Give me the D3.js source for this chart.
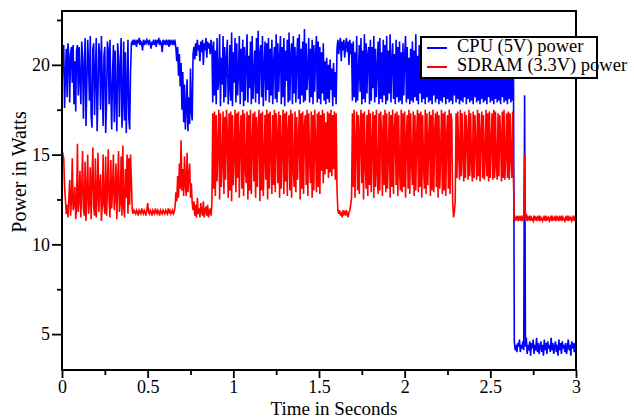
<!DOCTYPE html>
<html><head><meta charset="utf-8">
<script src="https://cdn.jsdelivr.net/npm/d3@7"></script>
<style>body{margin:0;background:#fff} text{font-family:"Liberation Serif","Times New Roman",serif;fill:#000}</style>
</head><body><svg id="c" width="634" height="418"></svg>
<script>
const timeStep = 0.005;
const cpuPower = [
18.5,20.8,21.1,17.6,19.4,20.9,18.2,21.2,20.4,17.9,20.6,21.0,19.0,21.1,17.8,20.2,17.4,20.8,21.1,18.3,
21.0,19.2,17.8,21.3,20.5,17.0,19.8,21.5,16.6,18.9,21.4,20.1,18.0,21.6,17.2,16.5,20.9,21.2,17.2,19.6,
21.5,16.3,18.4,21.2,20.6,17.5,21.6,19.1,16.6,20.5,21.0,16.2,17.9,21.3,20.8,17.8,21.4,18.6,16.4,19.5,
21.1,16.8,20.8,18.2,16.3,21.2,20.4,17.1,19.9,21.5,16.5,18.0,21.3,16.9,20.7,16.2,18.8,21.4,17.0,16.4,
19.6,21.2,21.3,21.1,21.4,21.2,21.3,21.0,21.4,21.2,21.5,21.1,21.3,21.2,20.8,21.4,21.1,21.3,21.2,21.4,
21.3,21.1,21.4,21.2,20.9,21.3,21.1,21.4,21.2,21.3,21.0,21.4,21.2,21.5,21.1,21.3,21.2,20.7,21.4,21.2,
21.3,21.1,21.4,21.2,21.3,21.0,21.4,21.2,21.3,21.1,21.4,21.2,21.3,20.9,20.2,21.0,19.4,20.6,18.8,20.1,
17.5,19.6,16.8,18.9,16.4,17.6,19.2,16.3,18.2,16.7,19.8,17.4,16.9,20.6,21.0,20.3,21.2,20.5,21.4,20.8,
21.1,20.2,21.3,20.7,21.4,20.0,21.2,20.8,21.5,20.4,21.3,20.9,21.2,20.6,21.4,21.0,17.9,21.3,18.3,20.8,
17.8,21.5,18.6,19.2,21.7,17.7,20.4,18.9,21.6,17.9,21.0,18.2,20.3,21.4,17.8,18.7,21.1,18.0,21.8,17.7,
20.7,19.0,21.5,17.9,21.2,18.3,19.6,21.6,17.8,20.9,18.5,21.4,17.7,21.0,18.0,20.2,21.7,17.9,20.5,18.7,
21.3,17.8,21.6,18.1,19.4,20.8,17.9,21.5,18.4,21.9,17.8,20.6,21.1,18.2,21.6,17.7,19.8,21.3,18.0,21.2,
18.6,21.5,17.9,20.9,18.3,21.4,17.8,20.1,21.0,18.1,21.7,17.9,21.2,18.5,20.4,21.6,17.8,21.0,18.2,21.5,
17.7,20.8,19.1,21.4,17.9,21.8,18.0,20.5,21.2,17.8,21.6,18.4,21.0,17.9,20.3,21.5,18.1,21.7,17.8,20.9,
18.3,21.3,17.9,22.0,18.0,21.2,18.6,19.7,21.5,17.9,20.9,18.2,21.4,17.8,21.1,18.5,20.6,21.6,17.9,21.3,
18.1,21.0,17.8,20.7,18.4,21.2,18.0,20.2,17.8,20.4,18.1,20.0,17.9,20.3,18.6,19.8,17.7,20.1,18.2,19.6,
17.8,20.9,21.4,20.6,21.2,21.5,20.2,21.3,20.8,21.4,20.4,21.1,21.5,20.7,21.3,20.0,21.4,20.6,21.2,18.0,
21.3,18.2,20.7,17.9,21.6,18.0,19.5,21.1,18.5,21.5,17.8,20.8,18.1,21.7,17.9,21.2,18.4,20.6,21.0,17.8,
21.4,18.0,21.0,18.7,21.6,17.9,20.9,18.2,19.8,21.3,17.8,21.5,18.1,20.7,17.9,21.4,18.3,21.1,17.8,21.6,
18.0,20.8,18.4,21.7,17.9,20.3,21.2,18.1,20.6,17.8,21.4,18.2,21.0,17.9,21.3,18.0,20.7,17.8,21.2,18.3,
20.5,21.6,17.9,21.0,18.1,20.4,17.8,20.9,18.0,21.3,17.9,20.8,18.2,21.7,18.0,20.5,17.8,21.1,18.4,20.6,
17.9,21.4,18.1,20.9,17.8,21.6,18.2,20.3,17.9,21.0,18.0,21.5,17.8,20.7,18.3,21.2,17.9,20.4,18.1,20.9,
17.8,21.1,18.0,20.6,17.9,21.3,18.2,20.5,17.8,20.8,18.1,20.2,17.9,20.9,18.0,20.4,17.8,20.7,18.3,20.5,
17.9,20.8,18.1,20.3,17.8,20.6,18.0,20.9,17.9,20.2,18.2,20.7,17.8,20.4,18.1,20.8,17.9,20.5,18.0,20.3,
17.8,20.7,18.2,20.4,17.9,20.9,18.0,20.2,17.8,20.6,18.1,20.8,17.9,20.3,18.0,20.7,17.8,20.5,18.2,20.4,
17.9,20.8,18.0,20.3,17.8,20.6,18.1,20.9,17.9,20.4,18.0,20.7,17.8,20.2,18.2,20.5,17.9,20.8,18.0,20.3,
17.8,20.6,18.1,20.4,17.9,20.5,18.0,19.8,4.6,4.1,4.4,4.0,4.5,4.3,4.7,4.0,4.4,4.2,4.6,4.1,
18.3,4.3,4.8,3.9,4.4,4.1,4.6,3.8,4.5,4.2,4.7,3.9,4.4,4.1,4.8,4.0,4.5,3.9,4.3,4.6,
4.0,4.4,3.8,4.7,4.1,4.5,3.9,4.6,4.2,4.4,4.0,4.8,4.1,4.5,3.9,4.3,4.6,4.0,4.4,3.8,
4.7,4.1,4.5,3.9,4.6,4.2,4.4,4.0,4.5,3.9,4.3,4.7,4.1,4.4,3.8,4.6,4.2,4.5,4.0,4.4,
4.3];
const sdramPower = [
15.3,15.0,14.8,13.2,12.5,11.7,12.2,11.5,12.6,13.6,11.6,12.4,14.8,11.9,12.2,13.2,11.4,12.0,15.6,11.8,
12.5,14.1,11.5,13.0,15.2,12.0,11.6,14.6,11.3,12.8,15.0,11.7,12.3,14.3,11.4,13.5,15.4,12.1,11.6,14.8,
11.5,12.7,15.1,11.8,13.3,13.9,11.3,12.2,15.0,12.2,11.7,14.9,11.6,13.0,15.3,12.4,11.5,14.7,12.0,13.1,
15.0,11.9,12.6,14.5,11.4,13.4,15.2,11.8,12.3,14.9,11.6,15.5,12.1,11.5,14.2,12.6,15.0,11.7,14.8,12.2,
15.0,13.5,11.9,11.7,11.9,11.8,11.7,11.9,11.8,11.6,11.9,11.8,11.7,12.0,11.8,11.7,11.9,11.8,11.6,11.9,
12.3,11.8,11.7,11.9,11.8,11.6,11.9,11.8,11.7,12.0,11.8,11.7,11.9,11.8,11.6,11.9,11.8,11.7,11.9,11.8,
11.7,11.9,11.8,11.7,12.0,11.8,11.9,11.7,11.8,11.9,11.7,11.8,12.1,12.9,12.4,13.8,12.6,14.5,13.1,15.8,
13.0,14.2,12.7,14.9,13.3,12.7,15.1,12.9,13.8,14.5,12.6,13.4,12.3,11.9,12.4,11.6,12.2,11.5,12.6,11.7,
12.0,11.5,12.3,11.8,11.6,12.4,11.5,11.9,12.1,11.6,12.2,11.5,11.8,12.0,11.6,12.3,17.3,13.1,17.4,12.7,
17.2,13.5,15.4,17.5,12.5,17.3,13.2,14.6,17.4,12.8,17.1,13.6,17.5,16.2,12.6,17.3,13.0,17.4,12.4,17.2,
13.3,15.1,17.5,12.9,17.3,13.7,17.4,12.6,16.0,17.2,13.1,17.5,12.7,17.3,14.3,13.4,17.4,12.5,17.2,13.0,
17.5,12.8,15.6,17.3,13.5,17.4,12.6,17.1,13.2,16.4,17.5,12.4,17.3,13.0,17.4,12.7,14.8,17.2,13.6,17.5,
12.5,17.3,13.1,17.4,15.2,12.8,17.2,13.3,17.5,12.9,17.3,16.1,13.4,17.4,12.6,17.2,13.1,15.5,17.5,12.8,
17.3,13.5,17.4,12.7,16.3,17.2,13.0,17.5,12.6,17.3,14.2,13.2,17.4,12.9,17.1,13.6,15.9,17.5,12.5,17.3,
13.1,17.4,12.8,16.6,17.2,13.3,17.5,12.7,17.3,14.8,13.4,17.4,12.6,17.2,13.0,17.5,15.7,12.9,17.3,13.2,
17.4,12.8,17.2,14.1,17.5,13.4,17.3,13.9,16.8,14.2,17.4,13.7,17.3,14.0,17.5,13.8,17.2,14.2,17.4,13.6,
17.3,13.1,11.9,11.7,11.9,11.6,11.8,11.5,11.9,11.7,11.8,11.6,11.9,11.7,11.5,11.8,11.9,12.2,12.6,17.3,
13.2,17.5,12.6,15.8,17.4,13.0,17.2,12.8,16.3,17.5,13.4,17.3,12.5,17.4,14.5,13.1,17.2,12.7,17.5,13.3,
17.3,12.9,15.6,17.4,12.6,17.2,13.2,17.5,14.0,12.8,17.3,13.0,17.4,16.2,12.7,17.2,13.3,17.5,12.9,17.3,
13.1,15.0,17.4,12.6,17.2,13.2,17.5,12.8,16.5,17.3,13.3,17.4,12.7,17.2,14.1,13.0,17.5,12.9,17.3,13.2,
17.4,12.6,15.9,17.2,13.1,17.5,12.8,17.3,14.6,13.3,17.4,12.7,17.2,13.0,16.1,17.5,12.9,17.3,13.2,17.4,
12.6,17.2,14.4,13.1,17.5,12.8,17.3,13.3,15.8,17.4,12.7,17.2,13.0,17.5,12.9,16.3,17.3,13.2,17.4,12.6,
17.2,13.1,15.2,17.5,12.8,17.3,13.0,17.4,12.7,16.0,17.2,13.1,17.5,12.8,17.3,16.9,12.4,11.5,11.8,12.4,
17.3,13.7,17.4,15.2,13.6,17.5,13.8,17.3,14.9,13.5,17.4,13.7,17.2,16.1,13.6,17.5,13.8,17.3,14.6,13.5,
17.4,13.7,17.2,15.5,13.6,17.5,13.8,17.3,13.5,16.2,17.4,13.7,17.2,13.6,14.8,17.5,13.8,17.3,13.5,17.4,
13.7,15.7,17.3,13.6,17.5,13.7,17.4,14.4,13.6,17.3,13.8,17.2,16.0,13.5,17.4,13.7,17.5,13.6,15.1,17.3,
13.7,17.4,13.6,17.3,14.8,13.7,17.4,13.6,11.5,11.3,11.5,11.4,11.6,11.3,11.5,11.4,11.6,11.3,11.5,11.4,
15.0,11.4,11.7,11.3,11.5,11.4,11.6,11.3,11.5,11.4,11.3,11.6,11.4,11.5,11.3,11.5,11.4,11.6,11.3,11.5,
11.4,11.3,11.5,11.4,11.6,11.3,11.5,11.4,11.5,11.3,11.4,11.6,11.3,11.5,11.4,11.5,11.3,11.6,11.4,11.5,
11.3,11.5,11.4,11.6,11.3,11.5,11.4,11.3,11.5,11.4,11.6,11.3,11.5,11.4,11.5,11.3,11.4,11.6,11.3,11.5,
11.4];
const xTicksMajor = [0, 0.5, 1, 1.5, 2, 2.5, 3];
const xTickLabels = ["0", "0.5", "1", "1.5", "2", "2.5", "3"];
const xTicksMinor = [0.25, 0.75, 1.25, 1.75, 2.25, 2.75];
const yTicksMajor = [5, 10, 15, 20];
const yTickLabels = ["5", "10", "15", "20"];
const yTicksMinor = [7.5, 12.5, 17.5, 22.5];
const seriesNames = ["CPU (5V) power", "SDRAM (3.3V) power"];
const seriesColors = ["#0000ff", "#ff0000"];
const xTitle = "Time in Seconds";
const yTitle = "Power in Watts";

const L = 62, R = 576, T = 11, B = 370;
const svg = d3.select("#c");
const x = d3.scaleLinear().domain([0, 3]).range([L, R]);
const y = d3.scaleLinear().domain([3, 23]).range([B, T]);

svg.append("clipPath").attr("id", "clip").append("rect")
  .attr("x", L).attr("y", T).attr("width", R - L).attr("height", B - T);

const line = d3.line().x((d, i) => x(i * timeStep)).y(d => y(d));
[cpuPower, sdramPower].forEach((s, k) => {
  svg.append("path").datum(s).attr("clip-path", "url(#clip)")
    .attr("fill", "none").attr("stroke", seriesColors[k])
    .attr("stroke-width", 1.6).attr("stroke-linejoin", "miter").attr("d", line);
});

// axes
const fmtX = d => xTickLabels[xTicksMajor.indexOf(d)];
const fmtY = d => yTickLabels[yTicksMajor.indexOf(d)];
svg.append("g").attr("transform", `translate(0,${B})`)
  .call(d3.axisBottom(x).tickValues(xTicksMajor).tickFormat(fmtX).tickSize(8).tickPadding(2));
svg.append("g").attr("transform", `translate(0,${B})`)
  .call(d3.axisBottom(x).tickValues(xTicksMinor).tickFormat("").tickSize(5));
svg.append("g").attr("transform", `translate(${L},0)`)
  .call(d3.axisLeft(y).tickValues(yTicksMajor).tickFormat(fmtY).tickSize(10).tickPadding(2));
svg.append("g").attr("transform", `translate(${L},0)`)
  .call(d3.axisLeft(y).tickValues(yTicksMinor).tickFormat("").tickSize(5));
svg.selectAll(".domain").remove();
svg.selectAll(".tick line").attr("stroke", "#000").attr("stroke-width", 1.8);
svg.selectAll(".tick text").style("font-size", "18px").attr("fill", "#000")
  .style("font-family", '"Liberation Serif", serif');

// frame
svg.append("rect").attr("x", L).attr("y", T).attr("width", R - L).attr("height", B - T)
  .attr("fill", "none").attr("stroke", "#000").attr("stroke-width", 2);

// titles
svg.append("text").attr("x", 334).attr("y", 415).attr("text-anchor", "middle")
  .style("font-size", "19px").text(xTitle);
svg.append("text").attr("transform", "translate(26,172) rotate(-90)").attr("text-anchor", "middle")
  .style("font-size", "20px").text(yTitle);

// legend
const lg = svg.append("g");
lg.append("rect").attr("x", 421).attr("y", 37).attr("width", 176).attr("height", 41)
  .attr("fill", "#fff").attr("stroke", "#000").attr("stroke-width", 2);
seriesNames.forEach((n, k) => {
  const yy = 48 + k * 19;
  lg.append("line").attr("x1", 427).attr("x2", 447).attr("y1", yy).attr("y2", yy)
    .attr("stroke", seriesColors[k]).attr("stroke-width", 2);
  lg.append("text").attr("x", 457).attr("y", 52 + k * 19).style("font-size", "18.5px").text(n);
});
</script></body></html>
